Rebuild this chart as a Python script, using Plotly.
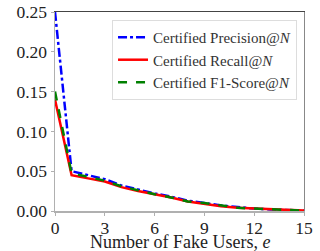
import plotly.graph_objects as go

fake_users = list(range(16))
precision = [0.25, 0.050, 0.045, 0.040, 0.032, 0.027, 0.022, 0.018, 0.013, 0.010, 0.007, 0.005, 0.003, 0.002, 0.001, 0.0005]
recall = [0.140, 0.045, 0.041, 0.037, 0.030, 0.025, 0.021, 0.017, 0.012, 0.009, 0.006, 0.004, 0.003, 0.002, 0.001, 0.0005]
f1 = [0.150, 0.047, 0.043, 0.038, 0.031, 0.026, 0.021, 0.017, 0.012, 0.010, 0.007, 0.004, 0.003, 0.002, 0.001, 0.0005]
x_ticks = [0, 3, 6, 9, 12, 15]
y_ticks = [0.00, 0.05, 0.10, 0.15, 0.20, 0.25]

FONT = "Liberation Serif, DejaVu Serif, serif"
TICKFONT = dict(family=FONT, size=17.5, color="#222")

fig = go.Figure()
fig.add_trace(go.Scatter(x=fake_users, y=precision, mode="lines", name="Certified Precision@<i>N</i>",
                         line=dict(color="#0000ff", width=2.5, dash="dashdot")))
fig.add_trace(go.Scatter(x=fake_users, y=recall, mode="lines", name="Certified Recall@<i>N</i>",
                         line=dict(color="#ff0000", width=2.5, dash="solid")))
fig.add_trace(go.Scatter(x=fake_users, y=f1, mode="lines", name="Certified F1-Score@<i>N</i>",
                         line=dict(color="#008000", width=2.5, dash="dash")))
# empty trace so the top/right frame axes get drawn
fig.add_trace(go.Scatter(x=[None], y=[None], xaxis="x2", yaxis="y2", mode="lines",
                         showlegend=False, hoverinfo="skip"))

fig.update_layout(
    width=320, height=251,
    margin=dict(l=55, r=16, t=12, b=40),
    paper_bgcolor="white", plot_bgcolor="white",
    font=dict(family=FONT, size=15, color="#222"),
    showlegend=True,
    legend=dict(x=0.972, y=0.96, xanchor="right", yanchor="top",
                bgcolor="rgba(255,255,255,0.8)", bordercolor="#dddddd", borderwidth=1,
                font=dict(family=FONT, size=15, color="#333"),
                tracegroupgap=0),
    xaxis=dict(range=[0, 15], tickvals=x_ticks, ticktext=[str(v) for v in x_ticks],
               tickfont=TICKFONT, automargin=False, ticklabelstandoff=-3,
               showgrid=False, zeroline=False, showline=True, linecolor="#b0b0b0", linewidth=1.5,
               ticks="outside", ticklen=3, tickcolor="#b0b0b0"),
    yaxis=dict(range=[0, 0.25], tickvals=y_ticks, ticktext=[f"{v:.2f}" for v in y_ticks],
               tickfont=TICKFONT, automargin=False,
               showgrid=False, zeroline=False, showline=True, linecolor="#b0b0b0", linewidth=1.5,
               ticks="outside", ticklen=3, tickcolor="#b0b0b0"),
    xaxis2=dict(overlaying="x", side="top", anchor="y2", range=[0, 15], showticklabels=False,
                ticks="", showgrid=False, zeroline=False, showline=True, linecolor="#444", linewidth=1.2),
    yaxis2=dict(overlaying="y", side="right", anchor="x2", range=[0, 0.25], showticklabels=False,
                ticks="", showgrid=False, zeroline=False, showline=True, linecolor="#888", linewidth=1.2),
    annotations=[dict(text="Number of Fake Users, <i>e</i>", xref="paper", yref="paper",
                      x=0.5, y=0, xanchor="center", yanchor="middle", yshift=-31,
                      showarrow=False, font=dict(family=FONT, size=18, color="#222"))],
)
fig.write_html("out.html", config={"displayModeBar": False, "staticPlot": True},
               post_script="document.body.style.margin='0';")
